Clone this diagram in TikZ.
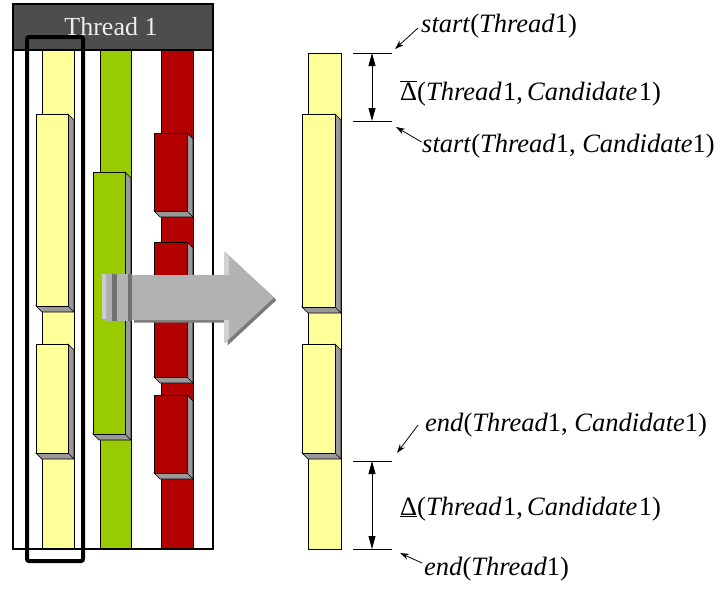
\documentclass[tikz,border=0pt]{standalone}
\usepackage{fontspec}
\setmainfont{Liberation Serif}
\usetikzlibrary{arrows.meta}
\definecolor{ylw}{HTML}{FFFF99}
\definecolor{grn}{HTML}{99CC00}
\definecolor{rd}{HTML}{B30000}
\definecolor{sidegray}{HTML}{999999}
\definecolor{hdrgray}{HTML}{4D4D4D}
\newcommand\tcube[5]{%
  \filldraw[fill=sidegray,draw=black,line width=0.7] (#4,#3) -- (#4+6,#3+6) -- (#4+6,#5+6) -- (#2+6,#5+6) -- (#2,#5) -- cycle;
  \draw[line width=0.7] (#4,#5) -- (#4+6,#5+6);
  \filldraw[fill=#1,draw=black,line width=0.7] (#2,#3) rectangle (#4,#5);
}
\newcommand\tstrip[5]{%
  \filldraw[fill=#1,draw=black,line width=0.7] (#2,#3) rectangle (#4,#5);
}
\tikzset{
  lbl/.style={anchor=base west,inner sep=0pt,font=\fontsize{26.5}{31}\selectfont},
  dimline/.style={line width=0.8},
  dimarrow/.style={line width=0.8,{Triangle[length=13pt,width=7pt]}-{Triangle[length=13pt,width=7pt]}},
  ptr/.style={line width=0.8,-{Stealth[length=9pt,width=6pt]}},
}
\begin{document}
\begin{tikzpicture}[x=1pt,y=-1pt]
\useasboundingbox (0,0) rectangle (721,592);
% left panel
\fill[white] (13,4) rectangle (213,549);
\tstrip{ylw}{42}{50}{74}{549}
\tcube{ylw}{36}{114}{68}{306}
\tcube{ylw}{36}{344}{68}{453}
\tstrip{grn}{100}{50}{131}{549}
\tcube{grn}{93}{172}{125}{434}
\tstrip{rd}{161}{50}{193}{549}
\tcube{rd}{154}{133}{187}{211}
\tcube{rd}{154}{242}{187}{377}
\tcube{rd}{154}{395}{187}{473}
\draw[line width=1.8] (13,4) rectangle (213,549);
\filldraw[fill=hdrgray,draw=black,line width=1.8] (13,4) rectangle (213,50);
\node[lbl,anchor=base,text=white!93!black,font=\fontsize{26}{31}\selectfont] (hdr) at (111,35) {Thread 1};
\draw[line width=4,rounded corners=2] (27,37) rectangle (83,561);
% big arrow
\fill[black!52] (134,277.5) -- (227.5,277.5) -- (227.5,254.5) -- (276.5,300) -- (227.5,345.5) -- (227.5,322.5) -- (134,322.5) -- cycle;
\fill[black!30] (132,275) -- (225,275) -- (225,252) -- (274,297.5) -- (225,343) -- (225,320) -- (132,320) -- cycle;
\fill[black!18] (224,252) -- (229,256.5) -- (229,275) -- (224,275) -- cycle;
\fill[black!18] (224,320) -- (229,320) -- (229,338.5) -- (224,343) -- cycle;
\fill[black!20] (102,274) rectangle (106,319);
\fill[black!31] (106,274) rectangle (112,321);
\fill[black!56] (112,274) rectangle (117,321);
\fill[black!30] (117,274) rectangle (128,321);
\fill[black!56] (128,274) rectangle (132,321);
% right column
\tstrip{ylw}{308}{53}{341}{549}
\tcube{ylw}{302}{114}{335}{307}
\tcube{ylw}{302}{344}{335}{453}
% dimension marks
\coordinate (t1) at (353,53); \coordinate (t2) at (392,53);
\coordinate (u1) at (353,121); \coordinate (u2) at (392,121);
\coordinate (b1) at (353,461); \coordinate (b2) at (392,461);
\coordinate (c1) at (353,549); \coordinate (c2) at (392,549);
\draw[dimline] (t1) -- (t2);
\draw[dimline] (u1) -- (u2);
\draw[dimline] (b1) -- (b2);
\draw[dimline] (c1) -- (c2);
\coordinate (va) at (372,53); \coordinate (vb) at (372,121);
\coordinate (vc) at (372,461); \coordinate (vd) at (372,549);
\draw[dimarrow] (va) -- (vb);
\draw[dimarrow] (vc) -- (vd);
% labels
\node[lbl] (ls) at (421,32) {\textit{start}(\textit{Thread}1)};
\node[lbl] (ld) at (400,100) {$\overline{\mbox{Δ}}$(\textit{Thread}\kern1.5pt1,\kern4pt\textit{Candidate}\kern1.5pt1)};
\node[lbl] (lsc) at (422,152) {\textit{start}(\textit{Thread}1, \textit{Candidate}1)};
\node[lbl] (lec) at (425,431) {\textit{end}(\textit{Thread}1, \textit{Candidate}1)};
\node[lbl] (lu) at (400,515) {\underline{Δ}(\textit{Thread}\kern1.5pt1,\kern4pt\textit{Candidate}\kern1.5pt1)};
\node[lbl] (le) at (424,575) {\textit{end}(\textit{Thread}1)};
\coordinate (p1) at (395,49); \coordinate (p2) at (396,127);
\coordinate (p3) at (397,453); \coordinate (p4) at (400,553);
\draw[ptr] (418,28) -- (p1);
\draw[ptr] (421.5,142) -- (p2);
\draw[ptr] (418,425) -- (p3);
\draw[ptr] (422,563) -- (p4);
\end{tikzpicture}
\end{document}
